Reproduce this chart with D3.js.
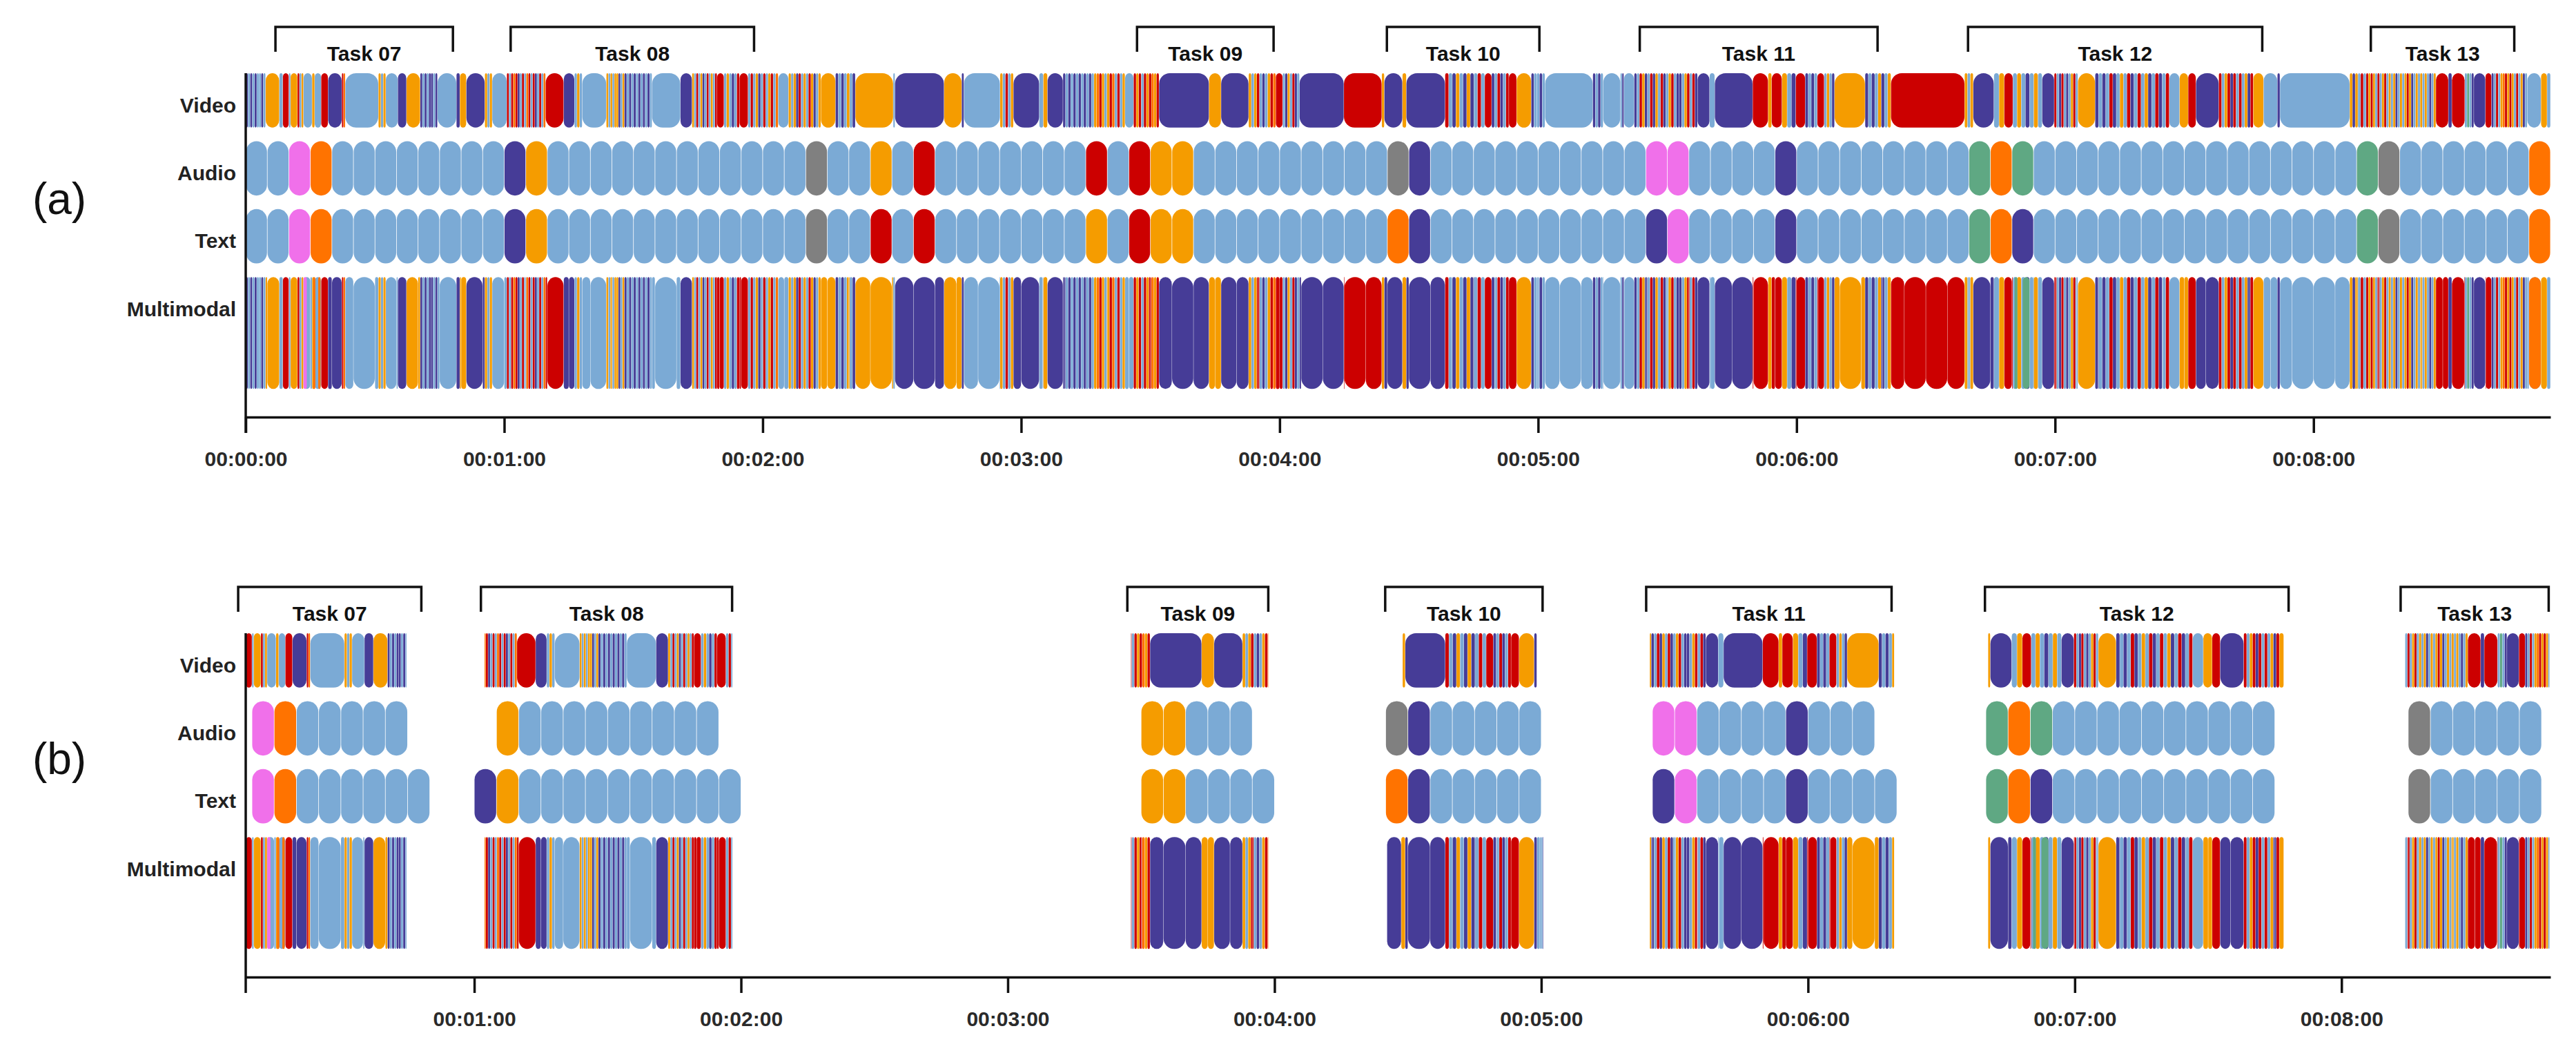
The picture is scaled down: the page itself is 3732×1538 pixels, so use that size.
<!DOCTYPE html>
<html>
<head>
<meta charset="utf-8">
<script src="https://cdn.jsdelivr.net/npm/d3@7"></script>
<style>
  body { margin: 0; background: #fff; }
  svg { display: block; }
  text { font-family: "Liberation Sans", Arial, sans-serif; }
</style>
</head>
<body>
<script>
// ---- data (times in seconds) ----
var rows = ["Video", "Audio", "Text", "Multimodal"];
var taskNames = ["Task 07", "Task 08", "Task 09", "Task 10", "Task 11", "Task 12", "Task 13"];
var taskStart = [6.9, 61.5, 206.9, 264.9, 323.6, 399.8, 493.3];
var taskEnd   = [48.1, 118.0, 238.6, 300.3, 378.8, 468.1, 526.6];

var pillSeconds = 5;
// one letter per 5 s segment
var audioCodes = ["ll", "ko", "llllllll", "pa", "llllllllllll", "g", "ll", "a", "l", "r",
  "lllllll", "r", "l", "r", "aa", "lllllllll", "gp", "llllllllll", "kk", "llll", "p",
  "llllllll", "non", "lllllllllllllll", "ng", "llllll", "o"].join("");
var textCodes = ["ll", "ko", "llllllll", "pa", "llllllllllll", "g", "ll", "r", "l", "r",
  "lllllll", "a", "l", "r", "aa", "lllllllll", "op", "llllllllll", "pk", "llll", "p",
  "llllllll", "nop", "lllllllllllllll", "ng", "llllll", "o"].join("");

// video labels: letters + ":" + duration; several letters = thin strips sharing the duration
var videoTokens = [
  "plplpllpl:4.6", "a:3.2", "l:0.8", "r:1.4", "l:0.4", "a:1.6", "rla:1.4", "l:2.0", "a:0.6", "l:1.5",
  "r:1.6", "p:3.2", "ro:0.8", "l:7.7", "ala:1.7", "l:2.8", "p:2.0", "a:3.2", "plplpplp:4.0", "l:4.4",
  "p:0.8", "a:1.5", "p:4.3", "ala:1.7", "l:3.4", "rlrorplrlorlrplrlo:9.0", "r:4.2", "p:2.5", "lal:1.8", "l:5.6",
  "alalaapla:4.2", "plplplplplpl:6.4", "l:6.6", "p:2.7", "alrlaplrlalr:5.8", "r:1.6", "lalplr:3.6", "r:2.0",
  "lrlaplrlarlo:7.0", "l:2.4", "alaprlalrapla:7.5", "a:3.4", "plplalp:4.6", "a:8.8", "l:0.4", "p:11.4",
  "a:4.1", "p:0.5", "l:8.4", "alrla:3.1", "p:6.0", "la:1.9", "p:3.6", "plplplplplplaoralarolrla:14.4",
  "l:2.0", "rarlraroar:5.9", "p:11.6", "a:2.8", "p:6.4", "alarlplaro:6.3", "r:1.6", "lpalrpl:3.9",
  "p:10.3", "r:8.8", "a:0.6", "p:4.2", "a:0.9", "p:9.0", "rlpalpaplrl:9.2", "r:1.6", "plrplr:4.0",
  "r:1.8", "a:3.4", "pllpl:3.2", "l:11.1", "plpl:2.4", "l:4.0", "lp:0.8", "l:2.4",
  "plraplrpalrplarlpplarlrp:14.7", "p:2.8", "l:1.2", "p:8.8", "r:3.6", "a:0.8", "r:2.4", "a:1.2",
  "lp:2.0", "r:2.2", "plpl:2.8", "r:1.6", "lalp:2.4", "a:7.1", "plplapla:6.0", "r:17.1", "ala:2.0",
  "p:4.8", "la:2.4", "r:2.0", "lalplal:6.8", "p:2.8", "rlprlplarl:5.5", "a:4.0",
  "plplrplalrplrlaplrplr:17.2", "l:2.4", "a:2.0", "r:1.8", "p:5.3", "rlarprlrlapr:8.0", "a:2.4",
  "l:3.2", "p:0.6", "l:16.2", "apalrl:3.8", "raralrlarlalaplalaraplalalalpla:16.2", "r:2.9", "p:0.8",
  "r:3.0", "lnlp:2.1", "p:2.7", "r:1.4", "plrlaoraralrlapl:8.3", "l:3.2", "a:1.4", "l:0.8"
];

// strips that only show in the multimodal row
var multiExtraCodes = ["k", "o", "o", "n", "n", "o"];
var multiExtraStart = [13.4, 15.6, 16.8, 410.6, 412.5, 530.0];
var multiExtraEnd   = [14.2, 16.2, 17.4, 411.3, 414.1, 532.8];

// panel (b): which 5 s segments and which video span is kept per task
var bAudioFirst = [2, 13, 42, 53, 65, 80, 99];
var bAudioLast  = [8, 22, 46, 59, 74, 92, 104];
var bTextFirst  = [2, 12, 42, 53, 65, 80, 99];
var bTextLast   = [9, 23, 47, 59, 75, 92, 104];
var bVideoFrom  = [8.6, 62.3, 207.7, 268.8, 324.4, 400.5, 494.3];
var bVideoTo    = [44.8, 118.1, 238.6, 299.0, 379.4, 467.0, 526.8];
var bMultiFrom  = [8.6, 62.3, 207.7, 265.3, 324.4, 400.5, 494.3];
var bMultiTo    = [44.8, 118.1, 238.6, 300.4, 379.4, 467.0, 526.8];

var topTicks = [0, 60, 120, 180, 240, 300, 360, 420, 480];
var bottomTicks = [60, 120, 180, 240, 300, 360, 420, 480];

var colors = {
  l: "#7baad5", p: "#463c97", a: "#f59c00", r: "#cc0000",
  o: "#ff7300", k: "#f070ea", g: "#808080", n: "#5fa883"
};

// ---- build segments ----
function parseTokens(tokens) {
  var segs = [], t = 0;
  tokens.forEach(function (tok) {
    var parts = tok.split(":"), letters = parts[0].split(""), dur = +parts[1];
    var step = dur / letters.length;
    letters.forEach(function (c, i) {
      segs.push({c: c, s: t + i * step, e: t + (i + 1) * step});
    });
    t += dur;
  });
  return segs;
}
function pills(codes) {
  return codes.split("").map(function (c, i) {
    return {c: c, s: i * pillSeconds, e: (i + 1) * pillSeconds, i: i};
  });
}
function splitAtPills(segs) {
  var out = [];
  segs.forEach(function (d) {
    var s = d.s;
    var k = Math.floor(s / pillSeconds) + 1;
    while (k * pillSeconds < d.e - 0.05) {
      if (k * pillSeconds > s + 0.05) {
        out.push({c: d.c, s: s, e: k * pillSeconds});
        s = k * pillSeconds;
      }
      k++;
    }
    out.push({c: d.c, s: s, e: d.e});
  });
  return out;
}
function clip(segs, a, b) {
  return segs.filter(function (d) { return d.e > a && d.s < b; })
    .map(function (d) { return {c: d.c, s: Math.max(d.s, a), e: Math.min(d.e, b)}; });
}

var videoSegs = parseTokens(videoTokens);
var audioSegs = pills(audioCodes);
var textSegs = pills(textCodes);
var multiSegs = splitAtPills(videoSegs).concat(multiExtraCodes.map(function (c, i) {
  return {c: c, s: multiExtraStart[i], e: multiExtraEnd[i]};
}));

// ---- drawing ----
var W = 3732, H = 1538;
var svg = d3.select("body").append("svg").attr("width", W).attr("height", H);

var x0 = 356, x1 = 3695;
var y = d3.scaleBand().domain(rows).range([0, 374]).paddingInner(0.2);
var multiH = 162;
var axisY = 498;

function rowHeight(r) { return r === "Multimodal" ? multiH : y.bandwidth(); }

function drawRow(g, x, row, segs, inset) {
  g.append("g").selectAll("rect")
    .data(segs)
    .enter()
    .append("rect")
    .attr("x", function (d) { return x(d.s) + inset / 2; })
    .attr("y", y(row))
    .attr("width", function (d) { return Math.max(0.6, x(d.e) - x(d.s) - inset); })
    .attr("height", rowHeight(row))
    .attr("rx", function (d) { return Math.min((x(d.e) - x(d.s) - inset) / 2, 15.5); })
    .attr("ry", function (d) { return Math.min((x(d.e) - x(d.s) - inset) / 2 + 1, 15.5); })
    .attr("fill", function (d) { return colors[d.c]; });
}

function fmt(s) {
  var h = Math.floor(s / 3600), m = Math.floor(s / 60) % 60, sec = s % 60;
  return [h, m, sec].map(function (v) { return (v < 10 ? "0" : "") + v; }).join(":");
}

function drawPanel(top, x, ticks, tag, data) {
  var g = svg.append("g").attr("transform", "translate(0," + top + ")");

  // task brackets
  var br = g.append("g");
  br.selectAll("path")
    .data(taskNames)
    .enter()
    .append("path")
    .attr("d", function (d, i) {
      var a = x(taskStart[i]), b = x(taskEnd[i]);
      return "M" + a + ",-31V-67H" + b + "V-31";
    })
    .attr("fill", "none")
    .attr("stroke", "#111")
    .attr("stroke-width", 3.5);
  br.selectAll("text")
    .data(taskNames)
    .enter()
    .append("text")
    .attr("x", function (d, i) { return (x(taskStart[i]) + x(taskEnd[i])) / 2; })
    .attr("y", -29)
    .attr("dominant-baseline", "central")
    .attr("text-anchor", "middle")
    .attr("font-size", 30)
    .attr("font-weight", "bold")
    .attr("fill", "#111")
    .text(function (d) { return d; });

  drawRow(g, x, "Video", data.video, 0.4);
  drawRow(g, x, "Audio", data.audio, 0.8);
  drawRow(g, x, "Text", data.text, 0.8);
  drawRow(g, x, "Multimodal", data.multi, 0.4);

  // row labels
  g.append("g").selectAll("text")
    .data(rows)
    .enter()
    .append("text")
    .attr("x", 342)
    .attr("y", function (d) { return y(d) + 46; })
    .attr("text-anchor", "end")
    .attr("dominant-baseline", "central")
    .attr("font-size", 30)
    .attr("font-weight", "bold")
    .attr("fill", "#222")
    .text(function (d) { return d; });

  // axes
  var ax = g.append("g")
    .attr("transform", "translate(0," + axisY + ")")
    .call(d3.axisBottom(x).tickValues(ticks).tickFormat(fmt).tickSize(23).tickSizeOuter(0).tickPadding(27));
  ax.select(".domain").attr("stroke", "#111").attr("stroke-width", 3.5);
  ax.selectAll(".tick line").attr("stroke", "#111").attr("stroke-width", 3.5);
  ax.selectAll(".tick text")
    .attr("font-size", 30)
    .attr("font-weight", "bold")
    .attr("fill", "#2a2a2a")
    .attr("font-family", "\"Liberation Sans\", Arial, sans-serif");

  g.append("line")
    .attr("x1", x0).attr("x2", x0)
    .attr("y1", 0).attr("y2", axisY + 23)
    .attr("stroke", "#111")
    .attr("stroke-width", 3.5);

  svg.append("text")
    .attr("x", 86)
    .attr("y", top + 182)
    .attr("text-anchor", "middle")
    .attr("dominant-baseline", "central")
    .attr("font-size", 64)
    .attr("font-family", "Lato, \"Open Sans\", sans-serif")
    .attr("fill", "#111")
    .text(tag);
}

// panel (a): whole session
var xa = d3.scaleLinear().domain([0, 535]).range([x0, x1]);
drawPanel(106, xa, topTicks, "(a)", {
  video: videoSegs, audio: audioSegs, text: textSegs, multi: multiSegs
});

// panel (b): task windows only
var xb = d3.scaleLinear().domain([8.6, 527]).range([x0, x1]);
var bVideo = [], bMulti = [], bAudio = [], bText = [];
taskNames.forEach(function (t, i) {
  bVideo = bVideo.concat(clip(videoSegs, bVideoFrom[i], bVideoTo[i]));
  bMulti = bMulti.concat(clip(multiSegs, bMultiFrom[i], bMultiTo[i]));
  bAudio = bAudio.concat(audioSegs.filter(function (d) { return d.i >= bAudioFirst[i] && d.i <= bAudioLast[i]; }));
  bText = bText.concat(textSegs.filter(function (d) { return d.i >= bTextFirst[i] && d.i <= bTextLast[i]; }));
});
drawPanel(917, xb, bottomTicks, "(b)", {
  video: bVideo, audio: bAudio, text: bText, multi: bMulti
});
</script>
</body>
</html>
